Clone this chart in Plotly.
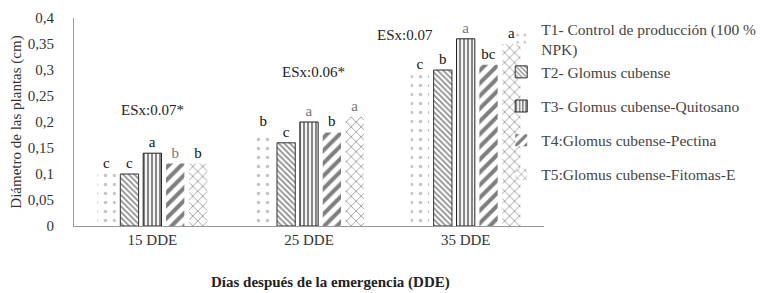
import plotly.graph_objects as go

categories = ["15 DDE", "25 DDE", "35 DDE"]
series_names = [
    "T1- Control de producción (100 %<br>NPK)",
    "T2- Glomus cubense",
    "T3- Glomus cubense-Quitosano",
    "T4:Glomus cubense-Pectina",
    "T5:Glomus cubense-Fitomas-E",
]
t1 = [0.10, 0.18, 0.29]
t2 = [0.10, 0.16, 0.30]
t3 = [0.14, 0.20, 0.36]
t4 = [0.12, 0.18, 0.31]
t5 = [0.12, 0.21, 0.35]
values = [t1, t2, t3, t4, t5]
letters = [
    ["c", "b", "c"],
    ["c", "c", "b"],
    ["a", "a", "a"],
    ["b", "b", "bc"],
    ["b", "a", "a"],
]
letter_colors = [
    ["#111", "#111", "#111"],
    ["#111", "#111", "#111"],
    ["#111", "#777", "#777"],
    ["#777", "#111", "#111"],
    ["#111", "#777", "#111"],
]
esx_labels = ["ESx:0.07*", "ESx:0.06*", "ESx:0.07"]
esx_x = [0.0, 1.03, 1.61]
esx_y = [0.223, 0.296, 0.367]

patterns = [
    dict(shape=".", fgcolor="#888", bgcolor="white", size=9, solidity=0.12),
    dict(shape="\\", fgcolor="#111", bgcolor="white", size=4, solidity=0.4),
    dict(shape="|", fgcolor="#111", bgcolor="white", size=4, solidity=0.55),
    dict(shape="/", fgcolor="#000", bgcolor="white", size=9, solidity=0.45),
    dict(shape="x", fgcolor="#111", bgcolor="white", size=7, solidity=0.2),
]
line_colors = ["rgba(0,0,0,0)", "#333", "#222", "rgba(0,0,0,0)", "rgba(0,0,0,0)"]
groups = ["g0", "g0", "g2", "g3", "g4"]

serif = "Liberation Serif"
fig = go.Figure()
for i in range(5):
    fig.add_trace(go.Bar(
        x=categories, y=values[i], name=series_names[i],
        marker=dict(color="white", pattern=patterns[i],
                    line=dict(color=line_colors[i], width=1)),
        text=letters[i], textposition="outside",
        textfont=dict(family=serif, size=15, color=letter_colors[i]),
        cliponaxis=False, legendgroup=groups[i],
    ))

for lab, xx, yy in zip(esx_labels, esx_x, esx_y):
    fig.add_annotation(x=xx, y=yy, xref="x", yref="y", text=lab, showarrow=False,
                       font=dict(family=serif, size=15, color="#222"))

fig.add_annotation(x=0.545, y=-0.274, xref="paper", yref="paper",
                   text="<b>Días después de la emergencia (DDE)</b>", showarrow=False,
                   xanchor="center", yanchor="middle",
                   font=dict(family=serif, size=15, color="#222"))

fig.update_layout(
    width=766, height=285,
    margin=dict(l=66, r=230, t=10, b=67, autoexpand=False),
    paper_bgcolor="white", plot_bgcolor="white",
    separators=", ",
    barmode="group", bargap=0.27, bargroupgap=0.2,
    font=dict(family=serif, color="#333"),
    showlegend=True,
    legend=dict(x=0.909, y=0.986, xref="paper", yref="container",
                xanchor="left", yanchor="top",
                font=dict(family=serif, size=15.5, color="#444"),
                traceorder="grouped", tracegroupgap=11, maxheight=280,
                itemwidth=30, bgcolor="rgba(0,0,0,0)"),
    xaxis=dict(showline=True, linecolor="#999", linewidth=1, ticks="",
               tickfont=dict(family=serif, size=15, color="#333")),
    yaxis=dict(range=[0, 0.4], dtick=0.05, showline=True, linecolor="#999", linewidth=1,
               showgrid=False, zeroline=False, ticks="", ticklabelstandoff=16,
               tickfont=dict(family=serif, size=15, color="#333"),
               title=dict(text="Diámetro de las plantas (cm)",
                          font=dict(family=serif, size=15, color="#333"), standoff=4)),
)
fig.write_html("out.html")
